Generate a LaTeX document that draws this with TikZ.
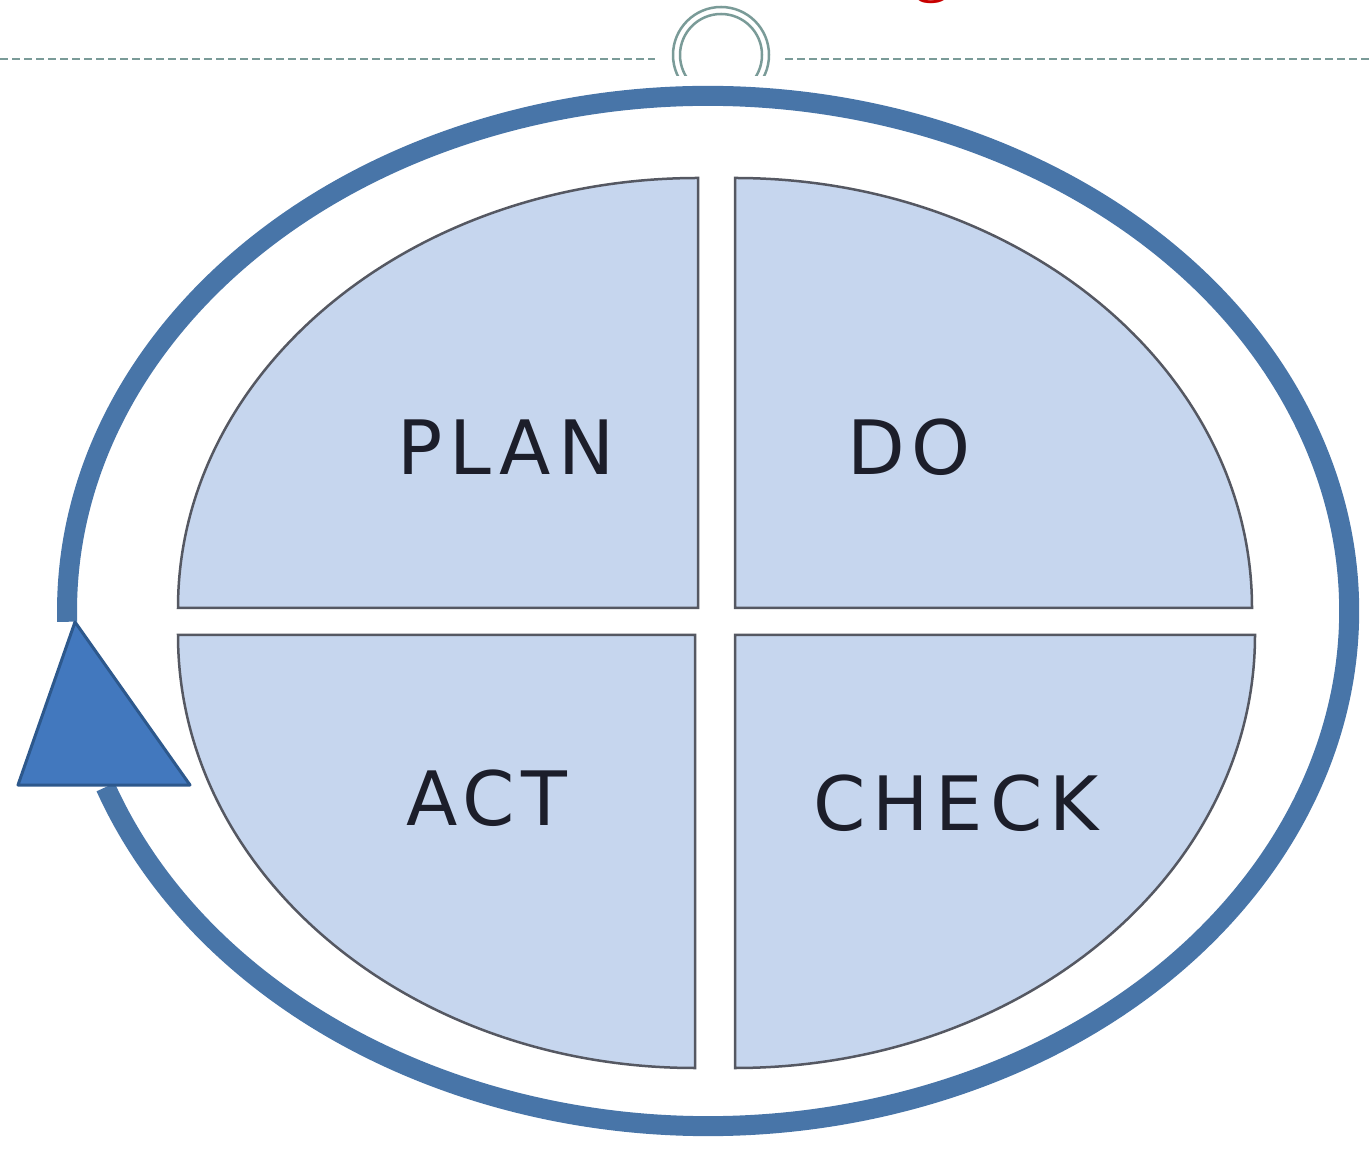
\documentclass[tikz,border=0pt]{standalone}
\usepackage{fontspec}
\newfontfamily\pdcafont{DejaVu Sans}[LetterSpace=9]
\newfontfamily\titlefont{Liberation Serif}
\definecolor{ringblue}{RGB}{72,117,168}
\definecolor{arrowfill}{RGB}{66,120,190}
\definecolor{arrowdraw}{RGB}{45,88,140}
\definecolor{quadfill}{RGB}{198,214,238}
\definecolor{quaddraw}{RGB}{85,88,98}
\definecolor{tealgray}{RGB}{122,155,152}
\definecolor{textdark}{RGB}{28,30,42}
\definecolor{titlered}{RGB}{200,0,0}
\tikzset{
  quad/.style={fill=quadfill, draw=quaddraw, line width=2.5pt, line join=miter},
  ring/.style={draw=ringblue, line width=20pt},
  lbl/.style={font=\pdcafont\fontsize{75}{90}\selectfont, text=textdark, anchor=base, inner sep=0pt},
  deco/.style={draw=tealgray, line width=2.5pt}
}
\begin{document}
\begin{tikzpicture}[x=1pt,y=1pt]
\useasboundingbox (0,0) rectangle (1370,1152);
\fill[white] (0,0) rectangle (1370,1152);
\begin{scope}
\clip (0,0) rectangle (1370,1152);
% top decoration
\node[font=\titlefont\fontsize{75}{90}\selectfont, text=titlered, anchor=base, inner sep=0pt] (title) at (932,1164) {g};
\coordinate (dl0) at (0,1093);
\coordinate (dl1) at (655,1093);
\coordinate (dr0) at (785,1093);
\coordinate (dr1) at (1370,1093);
\draw[deco, line width=2pt, dash pattern=on 8pt off 4pt] (dl0) -- (dl1);
\draw[deco, line width=2pt, dash pattern=on 8pt off 4pt] (dr0) -- (dr1);
\begin{scope}
\clip (600,1076) rectangle (850,1152);
\coordinate (cc) at (721,1097);
\draw[deco] (cc) circle[radius=48];
\draw[deco] (cc) circle[radius=41];
\end{scope}
\end{scope}
% cycle ring
\coordinate (rc) at (708,541);
\draw[ring] (rc) ++(200:641 and 515) arc[start angle=200, end angle=541.2, x radius=641, y radius=515];
% arrow head
\coordinate (ta) at (75,530);
\coordinate (tl) at (18,367);
\coordinate (tr) at (190,367);
\filldraw[fill=arrowfill, draw=arrowdraw, line width=3pt, line join=round] (ta) -- (tr) -- (tl) -- cycle;
% quadrants
\path[quad] (698,544) -- (178,544) arc[start angle=180, end angle=90, x radius=520, y radius=430] -- cycle;
\path[quad] (735,544) -- (735,974) arc[start angle=90, end angle=0, x radius=517, y radius=430] -- cycle;
\path[quad] (695,517) -- (178,517) arc[start angle=180, end angle=270, x radius=517, y radius=433] -- cycle;
\path[quad] (735,517) -- (1255,517) arc[start angle=0, end angle=-90, x radius=520, y radius=433] -- cycle;
% labels
\node[lbl] (plan) at (506,677) {PLAN};
\node[lbl] (do) at (909,677) {DO};
\node[lbl] (act) at (487,327) {ACT};
\node[lbl] (check) at (956,322) {CHECK};
\end{tikzpicture}
\end{document}
